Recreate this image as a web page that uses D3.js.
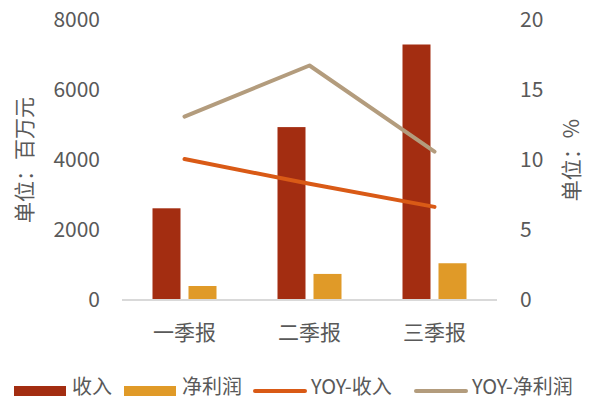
<!DOCTYPE html>
<html>
<head>
<meta charset="utf-8">
<script src="https://cdn.jsdelivr.net/npm/d3@7"></script>
<style>
  body { margin: 0; background: #fff; }
  text { font-family: "Noto Sans CJK SC", "Noto Sans", sans-serif; fill: #595959; }
</style>
</head>
<body>
<svg class="chart"></svg>
<script>
var categories = ["一季报", "二季报", "三季报"];
var revenue = [2620, 4940, 7300];       // 收入
var profit = [400, 745, 1050];          // 净利润
var yoyRevenue = [10.07, 8.3, 6.65];    // YOY-收入
var yoyProfit = [13.1, 16.75, 10.6];    // YOY-净利润
var leftTicks = [0, 2000, 4000, 6000, 8000];
var rightTicks = [0, 5, 10, 15, 20];

var colors = {rev: "#A32D11", prof: "#E09A28", yoyRev: "#D95A16", yoyProf: "#B39C7D"};

var margin = {top: 20, right: 93, bottom: 101, left: 122},
    W = 590, H = 401,
    width = W - margin.left - margin.right,
    height = H - margin.top - margin.bottom;

var svg = d3.select(".chart").attr("width", W).attr("height", H);
var chart = svg.append("g")
    .attr("transform", "translate(" + margin.left + "," + margin.top + ")");

var x = d3.scaleBand().domain(categories).range([0, width]);
var y = d3.scaleLinear().domain([0, 8000]).range([height, 0]);
var y2 = d3.scaleLinear().domain([0, 20]).range([height, 0]);

var barW = 28, gap = 8;

// bars
var rows = categories.map(function(c, i) { return {cat: c, rev: revenue[i], prof: profit[i]}; });

chart.selectAll(".bar.rev")
    .data(rows).enter().append("rect")
    .attr("class", "bar rev")
    .attr("x", function(d) { return x(d.cat) + x.bandwidth() / 2 - gap / 2 - barW; })
    .attr("y", function(d) { return y(d.rev); })
    .attr("width", barW)
    .attr("height", function(d) { return height - y(d.rev); })
    .attr("fill", colors.rev);

chart.selectAll(".bar.prof")
    .data(rows).enter().append("rect")
    .attr("class", "bar prof")
    .attr("x", function(d) { return x(d.cat) + x.bandwidth() / 2 + gap / 2; })
    .attr("y", function(d) { return y(d.prof); })
    .attr("width", barW)
    .attr("height", function(d) { return height - y(d.prof); })
    .attr("fill", colors.prof);

// x axis line
chart.append("line")
    .attr("x1", 0).attr("x2", width)
    .attr("y1", height).attr("y2", height)
    .attr("stroke", "#d9d9d9").attr("stroke-width", 2);

// lines
var line = d3.line()
    .x(function(d) { return x(d.cat) + x.bandwidth() / 2; })
    .y(function(d) { return y2(d.v); });

[[yoyProfit, colors.yoyProf, 4], [yoyRevenue, colors.yoyRev, 4]].forEach(function(s) {
  chart.append("path")
      .datum(categories.map(function(c, i) { return {cat: c, v: s[0][i]}; }))
      .attr("d", line)
      .attr("fill", "none")
      .attr("stroke", s[1])
      .attr("stroke-width", s[2])
      .attr("stroke-linecap", "round")
      .attr("stroke-linejoin", "round");
});

// axes
var yAxis = d3.axisLeft(y).tickValues(leftTicks).tickFormat(d3.format("d")).tickSize(0).tickPadding(22);
var y2Axis = d3.axisRight(y2).tickValues(rightTicks).tickFormat(d3.format("d")).tickSize(0).tickPadding(23);
var xAxis = d3.axisBottom(x).tickSize(0).tickPadding(25);

function styleAxis(g) {
  g.select(".domain").remove();
  g.selectAll("text").style("font-size", "21px").attr("fill", "#595959")
    .style("font-family", "'Noto Sans CJK SC', sans-serif");
}

chart.append("g").attr("class", "y axis").call(yAxis).call(styleAxis);
chart.append("g").attr("class", "y2 axis")
    .attr("transform", "translate(" + width + ",0)")
    .call(y2Axis).call(styleAxis);
chart.append("g").attr("class", "x axis")
    .attr("transform", "translate(0," + height + ")")
    .call(xAxis).call(styleAxis);

// axis titles
svg.append("text")
    .attr("transform", "translate(32,160) rotate(-90)")
    .style("text-anchor", "middle")
    .style("font-size", "21px")
    .text("单位：百万元");

svg.append("text")
    .attr("transform", "translate(579,160) rotate(-90)")
    .style("text-anchor", "middle")
    .style("font-size", "21px")
    .text("单位：%");

// legend
var legendItems = [
  {name: "收入", type: "rect", color: colors.rev, x: 14},
  {name: "净利润", type: "rect", color: colors.prof, x: 124},
  {name: "YOY-收入", type: "line", color: colors.yoyRev, x: 253},
  {name: "YOY-净利润", type: "line", color: colors.yoyProf, x: 414}
];
var ly = 391;
var legend = svg.append("g").attr("class", "legend");
legendItems.forEach(function(d) {
  var g = legend.append("g").attr("transform", "translate(" + d.x + "," + ly + ")");
  if (d.type == "rect") {
    g.append("rect").attr("x", 0).attr("y", -5).attr("width", 52).attr("height", 10).attr("fill", d.color);
  } else {
    g.append("line").attr("x1", 2).attr("x2", 52).attr("y1", 0).attr("y2", 0)
      .attr("stroke", d.color).attr("stroke-width", 4).attr("stroke-linecap", "round");
  }
  g.append("text").attr("x", 58).attr("y", 3)
    .style("font-size", "20px").text(d.name);
});
</script>
</body>
</html>
